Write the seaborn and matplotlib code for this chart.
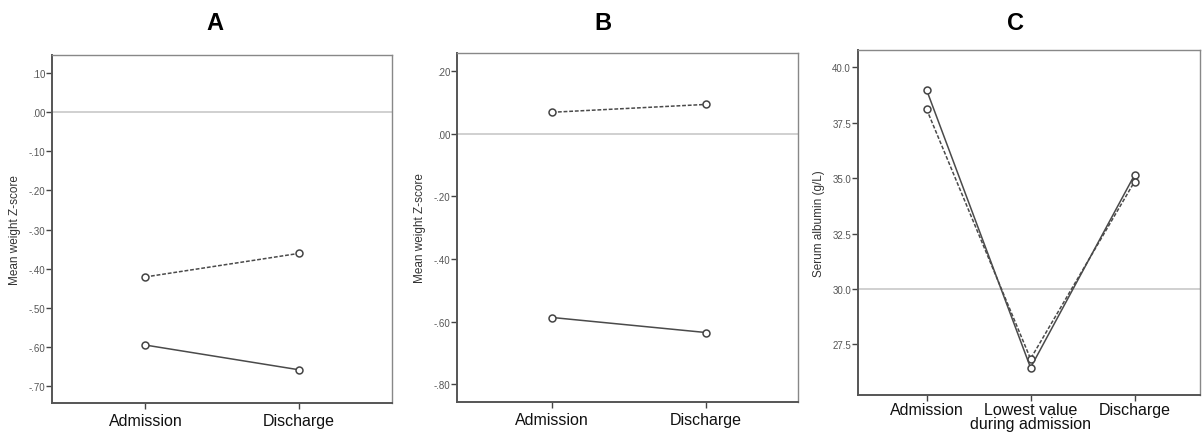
import numpy as np
import pandas as pd
import matplotlib
matplotlib.use("Agg")
import matplotlib.pyplot as plt
import seaborn as sns

# ── data ────────────────────────────────────────────────────────────────
times_ab = ["Admission", "Discharge"]
a_solid = [-0.595, -0.658]
a_dashed = [-0.421, -0.361]
b_solid = [-0.587, -0.635]
b_dashed = [0.069, 0.094]

times_c = ["Admission", "Lowest value\nduring admission", "Discharge"]
c_solid = [38.98, 26.45, 35.14]
c_dashed = [38.11, 26.85, 34.84]

a_ticks = [0.10, 0.00, -0.10, -0.20, -0.30, -0.40, -0.50, -0.60, -0.70]
b_ticks = [0.20, 0.00, -0.20, -0.40, -0.60, -0.80]
c_ticks = [27.5, 30.0, 32.5, 35.0, 37.5, 40.0]

sns.set_theme(style="white")
plt.rcParams["font.family"] = ["Liberation Sans", "DejaVu Sans"]

LINE = "#4a4a4a"
REF = "#c8c8c8"


def frame(times, solid, dashed):
    return pd.DataFrame({
        "time": list(times) * 2,
        "value": list(solid) + list(dashed),
        "group": ["solid"] * len(times) + ["dashed"] * len(times),
    })


def spss_fmt(v):
    s = f"{v:.2f}"
    return s.replace("0.", ".", 1) if abs(v) < 1 else s


def draw(ax, times, solid, dashed, ylim, xlim, ticks, ref, ylabel, fmt):
    df = frame(times, solid, dashed)
    ax.axhline(ref, color=REF, lw=1.2, zorder=1)
    sns.lineplot(
        data=df, x="time", y="value", style="group",
        style_order=["solid", "dashed"],
        dashes={"solid": "", "dashed": (2.5, 1.2)},
        markers={"solid": "o", "dashed": "o"},
        color=LINE, lw=1.1, markersize=5, mfc="white", mec="#444444", mew=1.1,
        legend=False, ax=ax, zorder=3,
    )
    ax.set_xlim(*xlim)
    ax.set_ylim(*ylim)
    ax.set_yticks(ticks)
    ax.set_yticklabels([fmt(t) for t in ticks], fontsize=7, color="#555555")
    ax.tick_params(axis="x", labelsize=11.5, length=4, width=1,
                   direction="out", bottom=True, pad=3,
                   color="#444444", labelcolor="#111111")
    ax.tick_params(axis="y", length=4, width=1, direction="out", left=True,
                   color="#444444", pad=1)
    ax.set_xlabel("")
    ax.set_ylabel(ylabel, fontsize=8.5, color="#333333", labelpad=5)
    for side in ["left", "bottom"]:
        ax.spines[side].set_color("#555555")
        ax.spines[side].set_linewidth(1.4)
    for side in ["top", "right"]:
        ax.spines[side].set_color("#888888")
        ax.spines[side].set_linewidth(1.0)


fig = plt.figure(figsize=(12.03, 4.35), dpi=100)
ax_a = fig.add_axes([0.0432, 0.0713, 0.2826, 0.800])
ax_b = fig.add_axes([0.3799, 0.0736, 0.2835, 0.802])
ax_c = fig.add_axes([0.7132, 0.0897, 0.2843, 0.793])

draw(ax_a, times_ab, a_solid, a_dashed, (-0.743, 0.146), (-0.61, 1.61),
     a_ticks, 0.0, "Mean weight Z-score", spss_fmt)
draw(ax_b, times_ab, b_solid, b_dashed, (-0.857, 0.258), (-0.62, 1.60),
     b_ticks, 0.0, "Mean weight Z-score", spss_fmt)
draw(ax_c, times_c, c_solid, c_dashed, (25.22, 40.78), (-0.66, 2.63),
     c_ticks, 30.0, "Serum albumin (g/L)", lambda v: f"{v:.1f}")
ax_c.tick_params(axis="x", pad=1)
for lab in ax_c.get_xticklabels():
    lab.set_linespacing(0.95)

for x, t in [(215, "A"), (603, "B"), (1015, "C")]:
    fig.text(x / 1203, 1 - 24 / 435, t, fontsize=17, fontweight="bold",
             ha="center", va="center", color="black")

fig.savefig("out.png", dpi=100)
